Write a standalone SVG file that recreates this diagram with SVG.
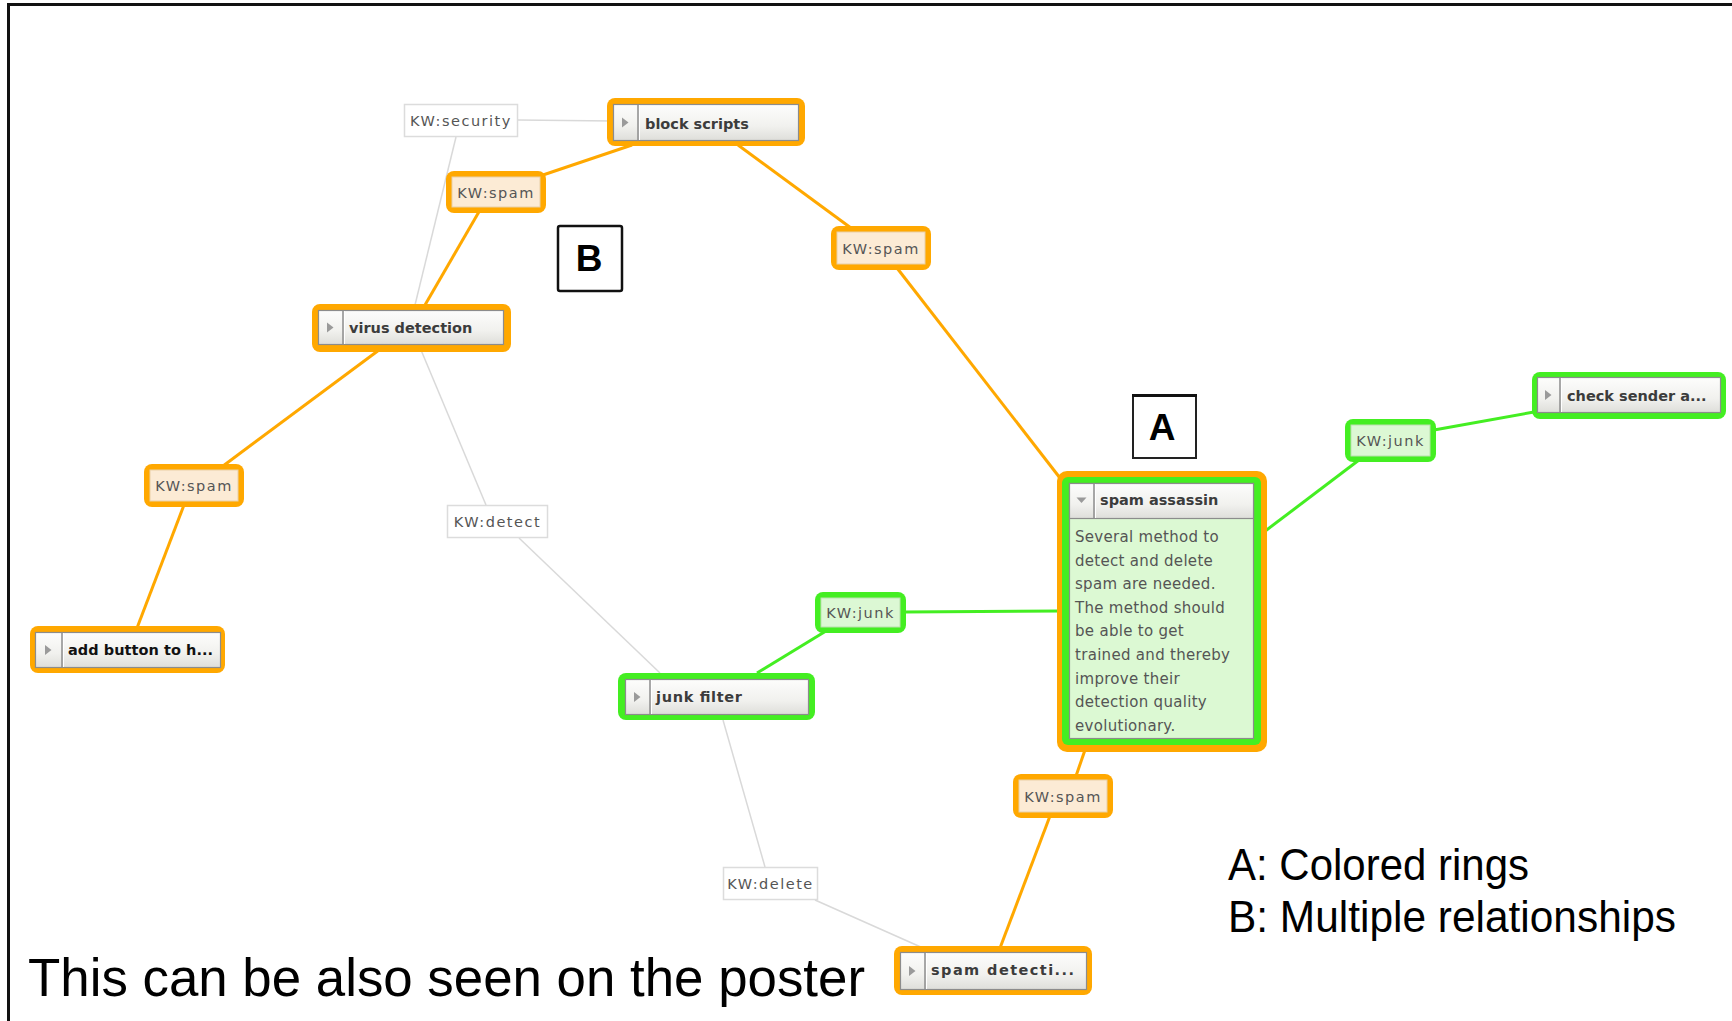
<svg xmlns="http://www.w3.org/2000/svg" width="1732" height="1021" viewBox="0 0 1732 1021">
<defs>
<linearGradient id="hdr" x1="0" y1="0" x2="0" y2="1">
<stop offset="0" stop-color="#fdfdfc"/>
<stop offset="0.6" stop-color="#f1f1ee"/>
<stop offset="1" stop-color="#dededa"/>
</linearGradient>
<style>
.frame{fill:none;stroke:#111;stroke-width:3}
.co{stroke:#ffa800;stroke-width:3;fill:none}
.cg{stroke:#44ee22;stroke-width:3;fill:none}
.cx{stroke:#d9d9d9;stroke-width:1.5;fill:none}
.ro{fill:#ffa800}
.rg{fill:#44ee22}
.box{fill:url(#hdr);stroke:#8c8c8c;stroke-width:1.2}
.div{stroke:#8c8c8c;stroke-width:1.5}
.divw{stroke:#ffffff;stroke-width:1}
.tri{fill:#9a9a9a}
.title{font-family:"DejaVu Sans",sans-serif;font-weight:bold;font-size:14.5px;fill:#3c3c3c}
.kwo{fill:#fcebd5;stroke:#e9cfa6;stroke-width:1}
.kwg{fill:#dcf8d4;stroke:#b9e0ad;stroke-width:1}
.kww{fill:#ffffff;stroke:#dcdcdc;stroke-width:1.5}
.kwt{font-family:"DejaVu Sans",sans-serif;font-size:14.5px;letter-spacing:1.5px;fill:#555;text-anchor:middle}
.body{font-family:"DejaVu Sans",sans-serif;font-size:15px;letter-spacing:0.3px;fill:#555}
.lab{font-family:"Liberation Sans",Arial,sans-serif;font-weight:bold;font-size:37px;fill:#000;text-anchor:middle}
.big{font-family:"Liberation Sans",Arial,sans-serif;fill:#000}
</style>
</defs>
<rect width="1732" height="1021" fill="#fff"/>
<path class="frame" d="M8.5,1021 V4.5 H1732"/>

<g id="connectors">
<line class="cx" x1="518" y1="120" x2="613" y2="121"/>
<line class="cx" x1="456" y1="137" x2="415" y2="305"/>
<line class="cx" x1="421" y1="350" x2="486" y2="505"/>
<line class="cx" x1="519" y1="538" x2="660" y2="673"/>
<line class="cx" x1="723" y1="720" x2="765" y2="867"/>
<line class="cx" x1="815" y1="900" x2="923" y2="948"/>
<line class="co" x1="632" y1="145" x2="540" y2="176"/>
<line class="co" x1="480" y1="210" x2="425" y2="305"/>
<line class="co" x1="738" y1="145" x2="851" y2="228"/>
<line class="co" x1="897" y1="268" x2="1060" y2="478"/>
<line class="co" x1="379" y1="350" x2="223" y2="466"/>
<line class="co" x1="184" y1="505" x2="137" y2="628"/>
<line class="co" x1="1085" y1="750" x2="1076" y2="776"/>
<line class="co" x1="1050" y1="816" x2="1000" y2="948"/>
<line class="cg" x1="1434" y1="430" x2="1534" y2="412"/>
<line class="cg" x1="1264" y1="532" x2="1359" y2="460"/>
<line class="cg" x1="904" y1="612" x2="1060" y2="611"/>
<line class="cg" x1="757" y1="673" x2="826" y2="631"/>
</g>

<g id="kw-security">
<rect class="kww" x="404.5" y="104.5" width="113" height="32"/>
<text class="kwt" x="461" y="126">KW:security</text>
</g>

<g id="block-scripts">
<rect class="ro" x="607" y="98" width="198" height="48" rx="8"/>
<rect class="box" x="613.5" y="104.5" width="185" height="36"/>
<line class="div" x1="638" y1="105" x2="638" y2="140"/>
<line class="divw" x1="639.5" y1="105" x2="639.5" y2="140"/>
<polygon class="tri" points="622,117.5 628.5,122.5 622,127.5"/>
<text class="title" x="645" y="128.5">block scripts</text>
</g>

<g id="kw-spam-1">
<rect class="ro" x="446" y="171" width="100" height="42" rx="8"/>
<rect class="kwo" x="452" y="177" width="88" height="30"/>
<text class="kwt" x="496" y="197.5">KW:spam</text>
</g>

<g id="kw-spam-2">
<rect class="ro" x="831" y="226" width="100" height="44" rx="8"/>
<rect class="kwo" x="837" y="232" width="88" height="32"/>
<text class="kwt" x="881" y="253.5">KW:spam</text>
</g>

<g id="virus-detection">
<rect class="ro" x="312" y="304" width="199" height="48" rx="8"/>
<rect class="box" x="318.5" y="310.5" width="185" height="34"/>
<line class="div" x1="343" y1="311" x2="343" y2="344"/>
<line class="divw" x1="344.5" y1="311" x2="344.5" y2="344"/>
<polygon class="tri" points="327,322.5 333.5,327.5 327,332.5"/>
<text class="title" x="349" y="333">virus detection</text>
</g>

<g id="kw-spam-3">
<rect class="ro" x="144" y="464" width="100" height="43" rx="8"/>
<rect class="kwo" x="150" y="470" width="88" height="31"/>
<text class="kwt" x="194" y="491">KW:spam</text>
</g>

<g id="add-button">
<rect class="ro" x="30" y="626" width="195" height="47" rx="8"/>
<rect class="box" x="35.5" y="632.5" width="185" height="35"/>
<line class="div" x1="62" y1="633" x2="62" y2="667"/>
<line class="divw" x1="63.5" y1="633" x2="63.5" y2="667"/>
<polygon class="tri" points="45,645 51.5,650 45,655"/>
<text class="title" x="68" y="655" style="fill:#111" textLength="145">add button to h...</text>
</g>

<g id="kw-detect">
<rect class="kww" x="447.5" y="505.5" width="100" height="32"/>
<text class="kwt" x="497.5" y="527">KW:detect</text>
</g>

<g id="kw-junk-1">
<rect class="rg" x="1345" y="419" width="91" height="43" rx="8"/>
<rect class="kwg" x="1351" y="425" width="79" height="31"/>
<text class="kwt" x="1390.5" y="446">KW:junk</text>
</g>

<g id="check-sender">
<rect class="rg" x="1532" y="372" width="194" height="47" rx="8"/>
<rect class="box" x="1537.5" y="377.5" width="183" height="35"/>
<line class="div" x1="1560" y1="378" x2="1560" y2="412"/>
<line class="divw" x1="1561.5" y1="378" x2="1561.5" y2="412"/>
<polygon class="tri" points="1545,390 1551.5,395 1545,400"/>
<text class="title" x="1567" y="401">check sender a...</text>
</g>

<g id="spam-assassin">
<rect class="ro" x="1057" y="471" width="210" height="281" rx="10"/>
<rect class="rg" x="1062" y="477" width="199" height="268" rx="6"/>
<rect x="1069.5" y="483.5" width="184" height="255" fill="#dcf9d3" stroke="#8c8c8c" stroke-width="1.2"/>
<rect class="box" x="1069.5" y="483.5" width="184" height="35"/>
<line class="div" x1="1094" y1="484" x2="1094" y2="518"/>
<line class="divw" x1="1095.5" y1="484" x2="1095.5" y2="518"/>
<polygon class="tri" points="1076.5,497.5 1086.5,497.5 1081.5,503"/>
<text class="title" x="1100" y="505">spam assassin</text>
<text class="body" x="1075" y="542">Several method to</text>
<text class="body" x="1075" y="565.6">detect and delete</text>
<text class="body" x="1075" y="589.2">spam are needed.</text>
<text class="body" x="1075" y="612.8">The method should</text>
<text class="body" x="1075" y="636.4">be able to get</text>
<text class="body" x="1075" y="660">trained and thereby</text>
<text class="body" x="1075" y="683.6">improve their</text>
<text class="body" x="1075" y="707.2">detection quality</text>
<text class="body" x="1075" y="730.8">evolutionary.</text>
</g>

<g id="kw-junk-2">
<rect class="rg" x="815" y="592" width="91" height="41" rx="8"/>
<rect class="kwg" x="821" y="598" width="79" height="29"/>
<text class="kwt" x="860.5" y="618">KW:junk</text>
</g>

<g id="junk-filter">
<rect class="rg" x="618" y="673" width="197" height="47" rx="8"/>
<rect class="box" x="625.5" y="679.5" width="183" height="35"/>
<line class="div" x1="650" y1="680" x2="650" y2="714"/>
<line class="divw" x1="651.5" y1="680" x2="651.5" y2="714"/>
<polygon class="tri" points="634,692 640.5,697 634,702"/>
<text class="title" x="656" y="702" textLength="86">junk filter</text>
</g>

<g id="kw-spam-4">
<rect class="ro" x="1013" y="774" width="100" height="44" rx="8"/>
<rect class="kwo" x="1019" y="780" width="88" height="32"/>
<text class="kwt" x="1063" y="801.5">KW:spam</text>
</g>

<g id="kw-delete">
<rect class="kww" x="723.5" y="867.5" width="94" height="32"/>
<text class="kwt" x="770.5" y="889">KW:delete</text>
</g>

<g id="spam-detection">
<rect class="ro" x="894" y="946" width="198" height="49" rx="8"/>
<rect class="box" x="900.5" y="952.5" width="186" height="37"/>
<line class="div" x1="925" y1="953" x2="925" y2="989"/>
<line class="divw" x1="926.5" y1="953" x2="926.5" y2="989"/>
<polygon class="tri" points="909,966 915.5,971 909,976"/>
<text class="title" x="931" y="975" textLength="143">spam detecti...</text>
</g>

<g id="label-a">
<rect x="1133" y="395" width="63" height="63" fill="#fff" stroke="#222" stroke-width="2"/>
<line x1="1132" y1="395.5" x2="1197" y2="395.5" stroke="#111" stroke-width="3"/>
<text class="lab" x="1162" y="440">A</text>
</g>

<g id="label-b">
<rect x="558" y="226" width="64" height="65" rx="2" fill="#fff" stroke="#111" stroke-width="2.5"/>
<text class="lab" x="589" y="271">B</text>
</g>

<text class="big" x="1228" y="880" font-size="44" textLength="301" lengthAdjust="spacingAndGlyphs">A: Colored rings</text>
<text class="big" x="1228" y="932" font-size="44" textLength="448" lengthAdjust="spacingAndGlyphs">B: Multiple relationships</text>
<text class="big" x="28" y="996" font-size="54" textLength="837" lengthAdjust="spacingAndGlyphs">This can be also seen on the poster</text>
</svg>
